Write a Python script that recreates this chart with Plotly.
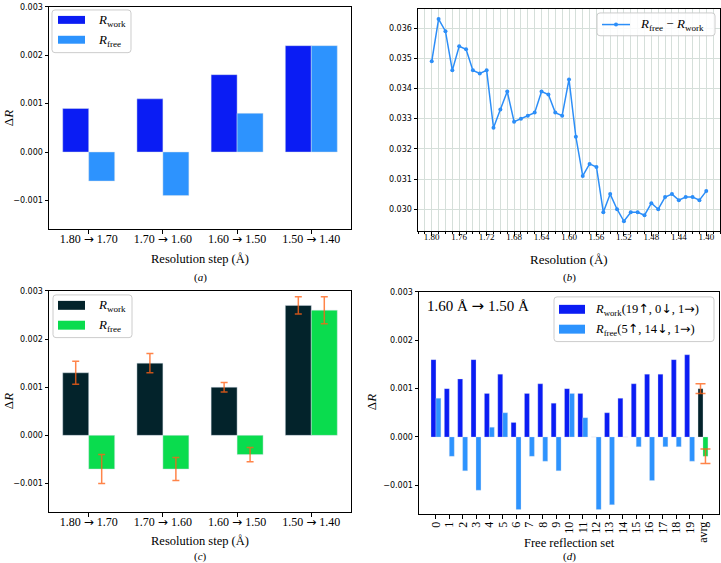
import plotly.graph_objects as go

W, H = 721, 563

# ---------------- data ----------------
# panel (a)
steps = ["1.80 → 1.70", "1.70 → 1.60", "1.60 → 1.50", "1.50 → 1.40"]
a_work = [0.0009, 0.0011, 0.0016, 0.0022]
a_free = [-0.0006, -0.0009, 0.0008, 0.0022]

# panel (b)
res = [1.80, 1.79, 1.78, 1.77, 1.76, 1.75, 1.74, 1.73, 1.72, 1.71,
       1.70, 1.69, 1.68, 1.67, 1.66, 1.65, 1.64, 1.63, 1.62, 1.61,
       1.60, 1.59, 1.58, 1.57, 1.56, 1.55, 1.54, 1.53, 1.52, 1.51,
       1.50, 1.49, 1.48, 1.47, 1.46, 1.45, 1.44, 1.43, 1.42, 1.41, 1.40]
gap = [0.0349, 0.0363, 0.0359, 0.0346, 0.0354, 0.0353, 0.0346, 0.0345, 0.0346, 0.0327,
       0.0333, 0.0339, 0.0329, 0.0330, 0.0331, 0.0332, 0.0339, 0.0338, 0.0332, 0.0331,
       0.0343, 0.0324, 0.0311, 0.0315, 0.0314, 0.0299, 0.0305, 0.0300, 0.0296, 0.0299,
       0.0299, 0.0298, 0.0302, 0.0300, 0.0304, 0.0305, 0.0303, 0.0304, 0.0304, 0.0303, 0.0306]
b_ticks = [1.80, 1.76, 1.72, 1.68, 1.64, 1.60, 1.56, 1.52, 1.48, 1.44, 1.40]
b_yticks = [0.030, 0.031, 0.032, 0.033, 0.034, 0.035, 0.036]

# panel (c)
c_work = [0.0013, 0.0015, 0.0010, 0.0027]
c_work_err = [0.00024, 0.00020, 0.00010, 0.00018]
c_free = [-0.0007, -0.0007, -0.0004, 0.0026]
c_free_err = [0.00030, 0.00024, 0.00015, 0.00028]

# panel (d)
sets = ["0", "1", "2", "3", "4", "5", "6", "7", "8", "9",
        "10", "11", "12", "13", "14", "15", "16", "17", "18", "19"]
d_work = [0.0016, 0.0010, 0.0012, 0.0016, 0.0009, 0.0013, 0.0003, 0.0009, 0.0011, 0.0007,
          0.0010, 0.0009, 0.0000, 0.0005, 0.0008, 0.0011, 0.0013, 0.0013, 0.0016, 0.0017]
d_free = [0.0008, -0.0004, -0.0007, -0.0011, 0.0002, 0.0005, -0.0015, -0.0004, -0.0005, -0.0007,
          0.0009, 0.0004, -0.0015, -0.0014, 0.0000, -0.0002, -0.0009, -0.0002, -0.0002, -0.0005]
avg_label = ["avrg"]
d_avg_work = [0.0010]
d_avg_work_err = [0.00010]
d_avg_free = [-0.0004]
d_avg_free_err = [0.00015]

dr_ticks = [-0.001, 0.000, 0.001, 0.002, 0.003]

# ---------------- styles ----------------
BLUE = "#0A1CF4"
LBLUE = "#2D93FE"
DARK = "#03232B"
GREEN = "#0ADC4E"
ERR = "rgba(255,98,22,0.78)"
LINE = "#2C8EF8"
EDGE = "rgba(215,225,235,0.75)"
SERIF = "Liberation Serif"
SANS = "DejaVu Sans"


def arrows(s):
    for ch in "→↑↓":
        s = s.replace(ch, '<span style="font-family:DejaVu Sans">' + ch + '</span>')
    return s


def fx(p):
    return p / W


def fy(p):
    return 1 - p / H


fig = go.Figure()

BW = 0.35
# (a)
fig.add_trace(go.Bar(x=steps, y=a_work, width=BW, offset=-BW, marker=dict(color=BLUE, line=dict(color=EDGE, width=0.6)),
                     xaxis="x", yaxis="y", showlegend=False))
fig.add_trace(go.Bar(x=steps, y=a_free, width=BW, offset=0, marker=dict(color=LBLUE, line=dict(color=EDGE, width=0.6)),
                     xaxis="x", yaxis="y", showlegend=False))
# (b)
fig.add_trace(go.Scatter(x=res, y=gap, mode="lines+markers", line=dict(color=LINE, width=1.5),
                         marker=dict(color=LINE, size=4), xaxis="x2", yaxis="y2", showlegend=False))
# (c)
fig.add_trace(go.Bar(x=steps, y=c_work, width=BW, offset=-BW, marker=dict(color=DARK, line=dict(color=EDGE, width=0.6)),
                     error_y=dict(type="data", array=c_work_err, color=ERR, thickness=1.5, width=3.5),
                     xaxis="x3", yaxis="y3", showlegend=False))
fig.add_trace(go.Bar(x=steps, y=c_free, width=BW, offset=0, marker=dict(color=GREEN, line=dict(color=EDGE, width=0.6)),
                     error_y=dict(type="data", array=c_free_err, color=ERR, thickness=1.5, width=3.5),
                     xaxis="x3", yaxis="y3", showlegend=False))
# (d)
DW = 0.37
fig.add_trace(go.Bar(x=sets, y=d_work, width=DW, offset=-DW, marker=dict(color=BLUE, line=dict(color=EDGE, width=0.4)),
                     xaxis="x4", yaxis="y4", showlegend=False))
fig.add_trace(go.Bar(x=sets, y=d_free, width=DW, offset=0, marker=dict(color=LBLUE, line=dict(color=EDGE, width=0.4)),
                     xaxis="x4", yaxis="y4", showlegend=False))
fig.add_trace(go.Bar(x=avg_label, y=d_avg_work, width=DW, offset=-DW, marker=dict(color=DARK, line=dict(color=EDGE, width=0.4)),
                     error_y=dict(type="data", array=d_avg_work_err, color=ERR, thickness=1.5, width=5),
                     xaxis="x4", yaxis="y4", showlegend=False))
fig.add_trace(go.Bar(x=avg_label, y=d_avg_free, width=DW, offset=0, marker=dict(color=GREEN, line=dict(color=EDGE, width=0.4)),
                     error_y=dict(type="data", array=d_avg_free_err, color=ERR, thickness=1.5, width=5),
                     xaxis="x4", yaxis="y4", showlegend=False))

axis_common = dict(showline=True, mirror=True, linecolor="black", linewidth=1, ticks="outside",
                   ticklen=3.5, tickwidth=1, tickcolor="black", zeroline=False, showgrid=False)

yfmt = dict(tickvals=dr_ticks, tickformat=".3f", range=[-0.0016, 0.003],
            tickfont=dict(family=SANS, size=8, color="black"))

step_text = [arrows(s) for s in steps]

layout = dict(
    width=W, height=H, margin=dict(l=0, r=0, t=0, b=0), autosize=False,
    paper_bgcolor="white", plot_bgcolor="white", barmode="overlay",
    xaxis=dict(axis_common, domain=[fx(49), fx(351)], type="category", range=[-0.535, 3.535],
               tickmode="array", tickvals=steps, ticktext=step_text,
               tickfont=dict(family=SERIF, size=12, color="black"), anchor="y", ticklabelstandoff=-5),
    yaxis=dict(axis_common, domain=[fy(227), fy(3)], anchor="x", **yfmt),
    xaxis2=dict(axis_common, domain=[fx(418), fx(720)], range=[1.82, 1.38], tickvals=b_ticks,
                tickformat=".2f", tickfont=dict(family=SERIF, size=9, color="black"), anchor="y2",
                ticklabelstandoff=-7,
                showgrid=True, gridcolor="#d5dfda", gridwidth=0.8,
                minor=dict(tick0=1.40, dtick=0.01, showgrid=True, gridcolor="#d5dfda", gridwidth=0.8,
                           ticks="outside", ticklen=2, tickcolor="black")),
    yaxis2=dict(axis_common, domain=[fy(229), fy(5)], range=[0.029265, 0.036635], tickvals=b_yticks,
                tickformat=".3f", tickfont=dict(family=SANS, size=8, color="black"), anchor="x2",
                showgrid=True, gridcolor="#d5dfda", gridwidth=0.8),
    xaxis3=dict(axis_common, domain=[fx(49), fx(351)], type="category", range=[-0.535, 3.535],
                tickmode="array", tickvals=steps, ticktext=step_text,
                tickfont=dict(family=SERIF, size=12, color="black"), anchor="y3", ticklabelstandoff=-5),
    yaxis3=dict(axis_common, domain=[fy(512), fy(289)], anchor="x3", **yfmt),
    xaxis4=dict(axis_common, domain=[fx(419), fx(719)], type="category", range=[-1.27, 21.2],
                tickmode="array", tickvals=sets + avg_label, ticktext=sets + avg_label,
                tickangle=-90, tickfont=dict(family=SERIF, size=12, color="black"), anchor="y4",
                ticklabelstandoff=-2),
    yaxis4=dict(axis_common, domain=[fy(514), fy(290)], anchor="x4", **yfmt),
)
fig.update_layout(**layout)

shapes = []
annotations = []


def rbox(x0, y0, x1, y1, r=3):
    rx, ry = r, r
    pts = [
        ("M", [(x0 + rx, y0)]), ("L", [(x1 - rx, y0)]), ("Q", [(x1, y0), (x1, y0 + ry)]),
        ("L", [(x1, y1 - ry)]), ("Q", [(x1, y1), (x1 - rx, y1)]), ("L", [(x0 + rx, y1)]),
        ("Q", [(x0, y1), (x0, y1 - ry)]), ("L", [(x0, y0 + ry)]), ("Q", [(x0, y0), (x0 + rx, y0)]),
    ]
    path = ""
    for cmd, ps in pts:
        path += cmd + " ".join("%.5f,%.5f" % (fx(a), fy(b)) for a, b in ps) + " "
    path += "Z"
    shapes.append(dict(type="path", path=path, xref="paper", yref="paper",
                       fillcolor="rgba(255,255,255,0.85)", line=dict(color="#cccccc", width=1)))


def patch(x0, y0, x1, y1, color):
    shapes.append(dict(type="rect", xref="paper", yref="paper", x0=fx(x0), x1=fx(x1), y0=fy(y1), y1=fy(y0),
                       fillcolor=color, line=dict(width=0)))


def text(x, y, s, size, xanchor="left", family=SERIF, angle=0):
    annotations.append(dict(x=fx(x), y=fy(y), xref="paper", yref="paper", text=s, showarrow=False,
                            xanchor=xanchor, yanchor="middle", textangle=angle,
                            font=dict(family=family, size=size, color="black")))


RW = "<i>R</i><sub>work</sub>"
RF = "<i>R</i><sub>free</sub>"

# legend (a)
rbox(52, 6, 131, 49)
patch(58, 12, 85, 20, BLUE)
patch(58, 32, 85, 40, LBLUE)
text(96, 17, RW, 13)
text(96, 37, RF, 13)

# legend (b)
rbox(597, 9, 715, 32)
shapes.append(dict(type="line", xref="paper", yref="paper", x0=fx(602), x1=fx(630), y0=fy(20.7), y1=fy(20.7),
                   line=dict(color=LINE, width=1.5)))
shapes.append(dict(type="circle", xref="paper", yref="paper", x0=fx(614), x1=fx(618), y0=fy(22.7), y1=fy(18.7),
                   fillcolor=LINE, line=dict(width=0)))
text(638, 21, RF + " − " + RW, 13)

# legend (c)
rbox(53, 293, 132, 336)
patch(58, 299, 85, 308, DARK)
patch(58, 319, 85, 328, GREEN)
text(96, 304, RW, 13)
text(96, 324, RF, 13)

# legend (d)
rbox(554, 295, 714, 340)
patch(559, 303, 585, 312, BLUE)
patch(559, 323, 585, 332, LBLUE)
text(593, 308, arrows(RW + "(19↑, 0↓, 1→)"), 12.5)
text(593, 328, arrows(RF + "(5↑, 14↓, 1→)"), 12.5)

# label in (d)
text(425, 304, arrows("1.60 Å → 1.50 Å"), 15)

# axis titles
text(200, 257, "Resolution step (Å)", 12.5, "center")
text(569, 257, "Resolution (Å)", 13, "center")
text(200, 541, "Resolution step (Å)", 12.5, "center")
text(569, 543, "Free reflection set", 12.5, "center")
text(8, 115, "Δ<i>R</i>", 13, "center", angle=-90)
text(8, 400, "Δ<i>R</i>", 13, "center", angle=-90)
text(371, 401, "Δ<i>R</i>", 13, "center", angle=-90)

# captions
text(200, 275, "(<i>a</i>)", 11, "center")
text(569, 275, "(<i>b</i>)", 11, "center")
text(200, 556, "(<i>c</i>)", 11, "center")
text(569, 556, "(<i>d</i>)", 11, "center")

fig.update_layout(shapes=shapes, annotations=annotations)
fig.write_html("out.html", config={"displayModeBar": False},
               post_script="document.body.style.margin='0px';document.body.style.padding='0px';")
